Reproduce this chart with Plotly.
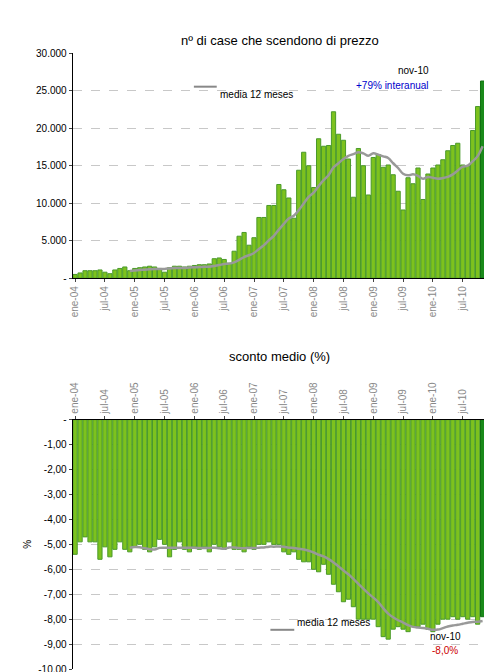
import plotly.graph_objects as go
import pandas as pd

meses = ["ene","feb","mar","abr","may","jun","jul","ago","sep","oct","nov","dic"]
months = [f"{m}-{y:02d}" for y in range(4, 11) for m in meses][:83]

casas = [500,700,1000,1000,1000,1100,800,600,1100,1300,1500,1000,
         1300,1400,1500,1600,1500,1300,800,1400,1600,1600,1500,1600,
         1700,1800,1800,1900,2600,2700,2500,2000,3600,5600,6100,4400,
         5400,8100,8100,9700,9700,12500,11800,10700,8000,14400,16800,15000,
         12100,18600,17600,17700,22200,19200,18400,15900,10800,17300,15000,11100,
         16100,16500,14800,15100,13800,11600,9100,13400,12600,14700,10500,13900,
         14700,15100,15800,17000,17700,18000,15100,15000,19700,22900,26300]

descuento = [-5.4,-4.9,-4.7,-4.9,-4.9,-5.6,-5.1,-5.5,-5.2,-4.9,-5.2,-5.3,
             -5.1,-5.0,-5.2,-5.3,-5.1,-4.8,-5.0,-5.5,-5.2,-4.9,-5.2,-5.3,
             -5.1,-5.2,-5.1,-5.3,-5.0,-5.1,-5.2,-4.9,-5.2,-5.2,-5.3,-5.1,
             -5.2,-5.0,-5.0,-4.9,-5.0,-5.0,-5.3,-5.4,-5.3,-5.6,-5.7,-5.7,
             -6.0,-6.1,-5.8,-6.2,-6.6,-6.9,-7.3,-7.2,-7.5,-8.0,-8.0,-8.0,
             -8.0,-8.3,-8.7,-8.8,-8.4,-8.3,-8.4,-8.5,-8.3,-8.3,-8.2,-8.4,
             -8.5,-8.2,-8.0,-8.0,-7.9,-8.0,-7.9,-8.0,-7.9,-8.2,-7.9]

top_ticks = [0,5000,10000,15000,20000,25000,30000]
top_text = ["-","5.000","10.000","15.000","20.000","25.000","30.000"]
bot_ticks = [0,-1,-2,-3,-4,-5,-6,-7,-8,-9,-10]
bot_text = ["-","-1,00","-2,00","-3,00","-4,00","-5,00","-6,00","-7,00","-8,00","-9,00","-10,00"]

ma_top = pd.Series(casas).rolling(12).mean()
ma_bot = pd.Series(descuento).rolling(12).mean()

W, H = 492, 672
xd = [62/W, 477/W]
def py(p): return 1 - p/H

colors = ["#7DC21E"]*82 + ["#1A8A1A"]
lines = ["#4A9A2A"]*82 + ["#127012"]

fig = go.Figure()
fig.add_trace(go.Bar(x=months, y=casas, marker=dict(color=colors, line=dict(color=lines, width=1)),
                     xaxis="x", yaxis="y", width=0.85))
fig.add_trace(go.Scatter(x=months, y=ma_top, mode="lines", line=dict(color="#999999", width=2.5, shape="spline"),
                         xaxis="x", yaxis="y"))
fig.add_trace(go.Bar(x=months, y=descuento, marker=dict(color=colors, line=dict(color=lines, width=1)),
                     xaxis="x2", yaxis="y2", width=0.85))
fig.add_trace(go.Scatter(x=months, y=ma_bot, mode="lines", line=dict(color="#999999", width=2.5, shape="spline"),
                         xaxis="x2", yaxis="y2"))

tickx = months[::6]
font = dict(family="Liberation Sans, Arial", size=10, color="#000")
axcommon = dict(showline=True, linecolor="black", linewidth=1, ticks="outside", ticklen=3,
                tickfont=font)
fig.update_layout(
    width=W, height=H, margin=dict(l=0, r=0, t=0, b=0),
    paper_bgcolor="white", plot_bgcolor="white", showlegend=False, bargap=0.1,
    font=font,
    xaxis=dict(domain=xd, anchor="y", type="category", tickmode="array", tickvals=tickx, ticktext=tickx,
               tickangle=-90, tickfont=dict(family="Liberation Sans, Arial", size=10, color="#888"),
               showline=True, linecolor="black", ticks="outside", ticklen=3, range=[-0.5, 82.5]),
    yaxis=dict(domain=[py(269), py(40)], range=[0, 30000], tickvals=top_ticks, ticktext=top_text,
               gridcolor="#c8c8c8", griddash="dash", zeroline=False, **axcommon),
    xaxis2=dict(domain=xd, anchor="y2", type="category", side="top", tickmode="array", tickvals=tickx,
                ticktext=tickx, tickangle=-90, tickfont=dict(family="Liberation Sans, Arial", size=10, color="#888"),
                showline=True, linecolor="black", ticks="outside", ticklen=3, range=[-0.5, 82.5]),
    yaxis2=dict(domain=[py(667), py(413)], range=[-10, 0], tickvals=bot_ticks, ticktext=bot_text,
                gridcolor="#c8c8c8", griddash="dash", zeroline=False,
                title=dict(text="%", font=font, standoff=4), **axcommon),
)
fig.add_annotation(text="nº di case che scendono di prezzo", x=0.55, y=py(17), xref="paper", yref="paper",
                   showarrow=False, font=dict(family="Liberation Sans, Arial", size=13))
fig.add_annotation(text="sconto medio (%)", x=0.55, y=py(349), xref="paper", yref="paper",
                   showarrow=False, font=dict(family="Liberation Sans, Arial", size=13))
fig.add_annotation(text="nov-10", x=423/W, y=py(50), xref="paper", yref="paper", showarrow=False, font=font)
fig.add_annotation(text="+79% interanual", x=423/W, y=py(65), xref="paper", yref="paper", showarrow=False,
                   font=dict(family="Liberation Sans, Arial", size=10, color="#0000CC"))
fig.add_annotation(text="nov-10", x=455/W, y=py(641), xref="paper", yref="paper", showarrow=False, font=font)
fig.add_annotation(text="-8,0%", x=452/W, y=py(656), xref="paper", yref="paper", showarrow=False,
                   font=dict(family="Liberation Sans, Arial", size=10, color="#CC0000"))
fig.add_shape(type="line", x0=184/W, x1=207/W, y0=py(74), y1=py(74), xref="paper", yref="paper",
              line=dict(color="#888", width=2))
fig.add_annotation(text="media 12 meses", x=208/W, y=py(74), xref="paper", yref="paper", showarrow=False,
                   xanchor="left", font=font)
fig.add_shape(type="line", x0=261/W, x1=285/W, y0=py(627), y1=py(627), xref="paper", yref="paper",
              line=dict(color="#888", width=2))
fig.add_annotation(text="media 12 meses", x=286/W, y=py(627), xref="paper", yref="paper", showarrow=False,
                   xanchor="left", font=font)
fig.write_html("out.html")
